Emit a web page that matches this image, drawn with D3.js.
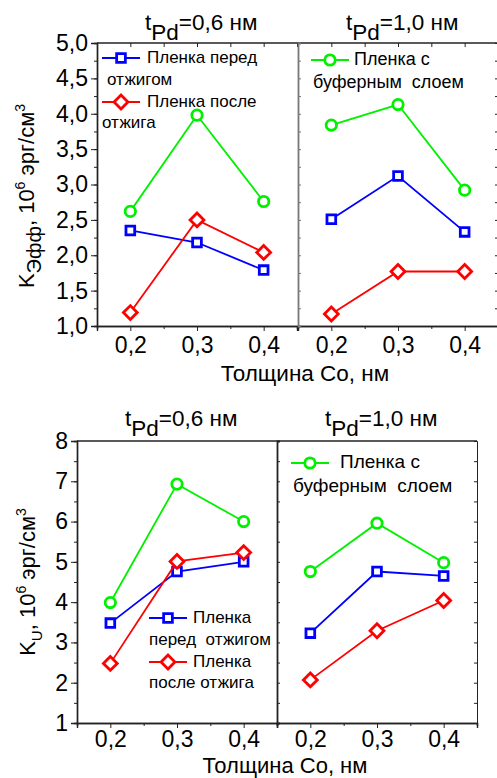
<!DOCTYPE html>
<html>
<head>
<meta charset="utf-8">
<script src="https://cdn.jsdelivr.net/npm/d3@7"></script>
<style>
  body { margin: 0; background: #fff; }
  svg { display: block; font-family: Arial, "Liberation Sans", sans-serif; }
  text { white-space: pre; }
</style>
</head>
<body>
<svg id="chart" width="497" height="778"></svg>
<script>
// x categories (Co thickness, nm)
const xValues = [0.2, 0.3, 0.4];
const xTickLabels = ['0,2', '0,3', '0,4'];

// top chart: K_eff, 10^6 erg/cm^3
const keffTicks = [1.0, 1.5, 2.0, 2.5, 3.0, 3.5, 4.0, 4.5, 5.0];
const keffBefore06 = [2.35, 2.18, 1.79];
const keffAfter06 = [1.19, 2.50, 2.04];
const keffBuffer06 = [2.62, 3.98, 2.76];
const keffBefore10 = [2.51, 3.12, 2.33];
const keffAfter10 = [1.17, 1.77, 1.77];
const keffBuffer10 = [3.84, 4.13, 2.92];

// bottom chart: K_U, 10^6 erg/cm^3
const kuTicks = [1, 2, 3, 4, 5, 6, 7, 8];
const kuBefore06 = [3.48, 4.76, 5.00];
const kuAfter06 = [2.48, 5.01, 5.23];
const kuBuffer06 = [3.99, 6.93, 6.00];
const kuBefore10 = [3.23, 4.76, 4.65];
const kuAfter10 = [2.07, 3.29, 4.04];
const kuBuffer10 = [4.76, 5.96, 4.98];

const BLUE = '#0000ff', RED = '#ff0000', GREEN = '#00f000';
const svg = d3.select('#chart');
const fmt = d => d3.format('.1f')(d).replace('.', ',');

const marker = (g, type, color, x, y) => {
  if (type === 'circle') {
    g.append('circle').attr('cx', x).attr('cy', y).attr('r', 5.2)
      .attr('fill', '#fff').attr('stroke', color).attr('stroke-width', 2.8);
  } else {
    g.append('path')
      .attr('d', d3.symbol(d3.symbolSquare, type === 'square' ? 76 : 96)())
      .attr('transform', `translate(${x},${y}) rotate(${type === 'diamond' ? 45 : 0})`)
      .attr('fill', '#fff').attr('stroke', color).attr('stroke-width', 2.8);
  }
};

const drawSeries = (g, x, y, values, color, type) => {
  const line = d3.line().x((d, i) => x(xValues[i])).y(d => y(d));
  g.append('path').datum(values).attr('d', line)
    .attr('fill', 'none').attr('stroke', color).attr('stroke-width', 1.8);
  values.forEach((v, i) => marker(g, type, color, x(xValues[i]), y(v)));
};

const legendItem = (g, lx, ly, color, type, lines, size) => {
  g.append('line').attr('x1', lx - 19).attr('x2', lx + 19).attr('y1', ly).attr('y2', ly)
    .attr('stroke', color).attr('stroke-width', 1.8);
  marker(g, type, color, lx, ly);
  lines.forEach(l => g.append('text').attr('x', l[0]).attr('y', l[1])
    .attr('font-size', size).text(l[2]));
};

const title = (x0, base, val) => {
  const t = svg.append('text').attr('x', x0).attr('y', base).attr('font-size', 22.5);
  t.append('tspan').text('t');
  t.append('tspan').attr('dy', 10).text('Pd');
  t.append('tspan').attr('dy', -10).text('=' + val + ' нм');
};

const yLabel = (cx, cy, sub) => {
  const t = svg.append('text').attr('transform', `translate(${cx},${cy}) rotate(-90)`)
    .attr('text-anchor', 'middle').attr('font-size', 22);
  t.append('tspan').text('K');
  t.append('tspan').attr('dy', 7).attr('font-size', sub === 'U' ? 15 : 20).text(sub);
  t.append('tspan').attr('dy', -7).text(', 10');
  t.append('tspan').attr('dy', -9).attr('font-size', 14).text('6');
  t.append('tspan').attr('dy', 9).text(' эрг/см');
  t.append('tspan').attr('dy', -9).attr('font-size', 14).text('3');
};

const drawChart = (cfg) => {
  const g = svg.append('g');
  const y = d3.scaleLinear().domain(cfg.yDomain).range([cfg.bottom, cfg.top]);
  const minorY = d3.range(cfg.yDomain[0], cfg.yDomain[1] + 1e-9, cfg.minorStep);
  const panels = cfg.lefts.map(l => d3.scaleLinear().domain([0.15, 0.45]).range([l, l + 200]));

  // left axis
  g.append('g').attr('transform', `translate(${cfg.lefts[0]},0)`)
    .call(d3.axisLeft(y).tickValues(minorY).tickSize(3).tickFormat(''));
  g.append('g').attr('transform', `translate(${cfg.lefts[0]},0)`)
    .call(d3.axisLeft(y).tickValues(cfg.yTicks).tickSize(6).tickPadding(3)
      .tickFormat(cfg.yFormat))
    .call(a => a.selectAll('text').attr('font-size', 23).attr('fill', '#000'));

  panels.forEach((x, k) => {
    const minorX = [0.15, 0.25, 0.35, 0.45];
    const bx = g.append('g').attr('transform', `translate(0,${cfg.bottom})`);
    bx.call(d3.axisBottom(x).tickValues(minorX).tickSize(3).tickFormat(''));
    bx.append('g').call(d3.axisBottom(x).tickValues(xValues).tickSize(5).tickPadding(cfg.xPad)
      .tickFormat((d, i) => xTickLabels[i]))
      .call(a => a.selectAll('text').attr('font-size', 23).attr('fill', '#000'));
    if (cfg.topTicks) {
      g.append('g').attr('transform', `translate(0,${cfg.top})`)
        .call(d3.axisBottom(x).tickValues(minorX.concat(xValues)).tickSize(4).tickFormat(''))
        .call(a => a.select('.domain').remove());
    }
    cfg.series[k].forEach(s => drawSeries(g, x, y, s.values, s.color, s.type));
  });
  g.selectAll('.domain').attr('stroke', '#222').attr('stroke-width', 1.4);
  g.selectAll('.tick line').attr('stroke', '#222');

  const right = cfg.lefts[1] + 200;
  g.append('line').attr('x1', cfg.lefts[0]).attr('x2', right)
    .attr('y1', cfg.top).attr('y2', cfg.top).attr('stroke', '#222').attr('stroke-width', 1.4);
  // divider between panels
  g.append('g').attr('transform', `translate(${cfg.lefts[1]},0)`)
    .call(d3.axisRight(y).tickValues(minorY).tickSize(3).tickFormat(''))
    .call(a => a.selectAll('path,line').attr('stroke', cfg.dividerColor))
    .call(a => a.select('.domain').attr('stroke-width', 1.8));
  g.append('g').attr('transform', `translate(${right},0)`)
    .call(d3.axisLeft(y).tickValues(minorY).tickSize(3).tickFormat(''))
    .call(a => a.selectAll('path,line').attr('stroke', '#222'));
  return g;
};

// ---------- top chart ----------
const topChart = drawChart({
  top: 43, bottom: 326, lefts: [97, 298], yDomain: [1, 5], minorStep: 0.25,
  yTicks: keffTicks, yFormat: fmt, topTicks: true, dividerColor: '#777', xPad: 6,
  series: [
    [{ values: keffBuffer06, color: GREEN, type: 'circle' },
     { values: keffBefore06, color: BLUE, type: 'square' },
     { values: keffAfter06, color: RED, type: 'diamond' }],
    [{ values: keffBuffer10, color: GREEN, type: 'circle' },
     { values: keffBefore10, color: BLUE, type: 'square' },
     { values: keffAfter10, color: RED, type: 'diamond' }]
  ]
});
title(145, 30, '0,6');
title(346, 30, '1,0');
yLabel(34, 196, 'Эфф');
svg.append('text').attr('x', 305).attr('y', 381).attr('text-anchor', 'middle')
  .attr('font-size', 22.5).text('Толщина Со, нм');
legendItem(topChart, 121, 58, BLUE, 'square',
  [[147, 63, 'Пленка перед'], [107, 85, 'отжигом']], 17);
legendItem(topChart, 121, 102, RED, 'diamond',
  [[147, 107, 'Пленка после'], [102, 128, 'отжига']], 17);
legendItem(topChart, 330, 60, GREEN, 'circle',
  [[354, 65, 'Пленка с'], [313, 88, 'буферным  слоем']], 18);

// ---------- bottom chart ----------
const bottomChart = drawChart({
  top: 441, bottom: 723, lefts: [77, 277], yDomain: [1, 8], minorStep: 0.5,
  yTicks: kuTicks, yFormat: d3.format('d'), topTicks: false, dividerColor: '#222', xPad: 3,
  series: [
    [{ values: kuBuffer06, color: GREEN, type: 'circle' },
     { values: kuBefore06, color: BLUE, type: 'square' },
     { values: kuAfter06, color: RED, type: 'diamond' }],
    [{ values: kuBuffer10, color: GREEN, type: 'circle' },
     { values: kuBefore10, color: BLUE, type: 'square' },
     { values: kuAfter10, color: RED, type: 'diamond' }]
  ]
});
title(125, 426, '0,6');
title(325, 426, '1,0');
yLabel(35, 582, 'U');
svg.append('text').attr('x', 285).attr('y', 773).attr('text-anchor', 'middle')
  .attr('font-size', 22).text('Толщина Со, нм');
legendItem(bottomChart, 168, 618, BLUE, 'square',
  [[193, 623, 'Пленка'], [149, 645, 'перед  отжигом']], 17);
legendItem(bottomChart, 168, 662, RED, 'diamond',
  [[193, 667, 'Пленка'], [149, 688, 'после отжига']], 17);
legendItem(bottomChart, 310, 463, GREEN, 'circle',
  [[340, 468, 'Пленка с'], [293, 492, 'буферным  слоем']], 19);
</script>
</body>
</html>
